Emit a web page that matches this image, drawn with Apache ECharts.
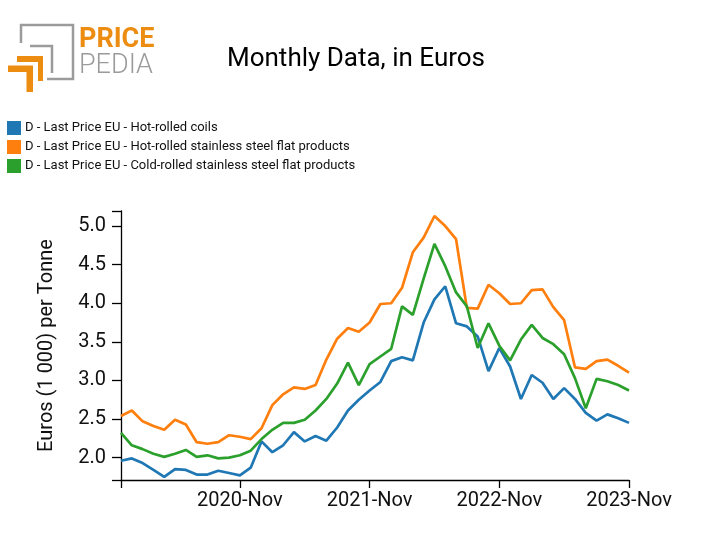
<!DOCTYPE html>
<html>
<head>
<meta charset="utf-8">
<script src="https://cdn.jsdelivr.net/npm/echarts@6/dist/echarts.min.js"></script>
<style>
html,body{margin:0;padding:0;background:#fff;}
#chart{width:712px;height:555px;}
</style>
</head>
<body>
<div id="chart"></div>
<script>
const months = [
 '2019-Dec','2020-Jan','2020-Feb','2020-Mar','2020-Apr','2020-May','2020-Jun','2020-Jul','2020-Aug','2020-Sep','2020-Oct','2020-Nov',
 '2020-Dec','2021-Jan','2021-Feb','2021-Mar','2021-Apr','2021-May','2021-Jun','2021-Jul','2021-Aug','2021-Sep','2021-Oct','2021-Nov',
 '2021-Dec','2022-Jan','2022-Feb','2022-Mar','2022-Apr','2022-May','2022-Jun','2022-Jul','2022-Aug','2022-Sep','2022-Oct','2022-Nov',
 '2022-Dec','2023-Jan','2023-Feb','2023-Mar','2023-Apr','2023-May','2023-Jun','2023-Jul','2023-Aug','2023-Sep','2023-Oct','2023-Nov'
];
const labeledMonths = ['2020-Nov','2021-Nov','2022-Nov','2023-Nov'];
const tickedMonths = ['2019-Dec','2020-Nov','2021-Nov','2022-Nov','2023-Nov'];

const hotRolledCoils = [
 1.96,1.99,1.93,1.84,1.75,1.85,1.84,1.78,1.78,1.83,1.80,1.77,
 1.87,2.21,2.07,2.16,2.33,2.21,2.28,2.22,2.39,2.61,2.75,2.87,
 2.98,3.25,3.30,3.26,3.75,4.05,4.22,3.74,3.70,3.57,3.12,3.42,
 3.18,2.76,3.07,2.97,2.76,2.90,2.76,2.58,2.48,2.56,2.51,2.45
];
const hotRolledStainless = [
 2.54,2.61,2.47,2.41,2.36,2.49,2.43,2.20,2.18,2.20,2.29,2.27,
 2.24,2.38,2.68,2.82,2.91,2.89,2.94,3.27,3.54,3.68,3.63,3.75,
 3.99,4.00,4.20,4.66,4.85,5.13,5.00,4.83,3.94,3.93,4.24,4.13,
 3.99,4.00,4.17,4.18,3.95,3.78,3.17,3.15,3.25,3.27,3.19,3.10
];
const coldRolledStainless = [
 2.32,2.16,2.11,2.05,2.01,2.05,2.10,2.01,2.03,1.99,2.00,2.03,
 2.09,2.24,2.36,2.45,2.45,2.49,2.61,2.76,2.96,3.23,2.94,3.21,
 3.31,3.41,3.96,3.85,4.32,4.77,4.48,4.14,3.96,3.42,3.74,3.45,
 3.26,3.53,3.72,3.55,3.47,3.34,3.03,2.64,3.02,2.99,2.94,2.87
];
const seriesNames = [
 'D - Last Price EU - Hot-rolled coils',
 'D - Last Price EU - Hot-rolled stainless steel flat products',
 'D - Last Price EU - Cold-rolled stainless steel flat products'
];
const yMin = 1.71, yMax = 5.195;
const yLabelValues = [2.0,2.5,3.0,3.5,4.0,4.5,5.0];
const yTickValues = [yMin,2.0,2.5,3.0,3.5,4.0,4.5,5.0,yMax];

const colors = ['#1f77b4','#ff7f0e','#2ca02c'];
const orange = '#ec8d12', gray = '#9b9b9b';

const chart = echarts.init(document.getElementById('chart'), null, {renderer:'canvas'});
const font = 'Roboto, "Liberation Sans", sans-serif';
chart.setOption({
  animation:false,
  backgroundColor:'#fff',
  color:colors,
  title:{
    text:'Monthly Data, in Euros', left:'center', top:46, padding:0,
    textStyle:{fontFamily:font, fontSize:26, fontWeight:'normal', color:'#000'}
  },
  legend:{
    orient:'vertical', left:7, top:121, itemWidth:14, itemHeight:14, itemGap:5,
    icon:'rect', padding:0,
    textStyle:{fontFamily:font, fontSize:13, color:'#111', padding:[0,0,0,-1]},
    data:seriesNames
  },
  grid:{left:121, right:83, top:211, bottom:75, containLabel:false},
  xAxis:{
    type:'category', data:months, boundaryGap:false,
    axisLine:{lineStyle:{color:'#000', width:1.3}},
    axisTick:{length:8, lineStyle:{color:'#000', width:1.3},
      interval:(i,v)=>tickedMonths.includes(v)},
    axisLabel:{fontFamily:font, fontSize:20, color:'#111', margin:11,
      interval:(i,v)=>labeledMonths.includes(v)},
    splitLine:{show:false}
  },
  yAxis:{
    type:'value', min:yMin, max:yMax,
    name:'Euros (1 000) per Tonne', nameLocation:'middle', nameGap:64,
    nameTextStyle:{fontFamily:font, fontSize:20, color:'#111'},
    axisLine:{show:true, lineStyle:{color:'#000', width:1.3}},
    axisTick:{show:true, length:9, lineStyle:{color:'#000', width:1.3}, customValues:yTickValues},
    axisLabel:{fontFamily:font, fontSize:20, color:'#111', margin:15, customValues:yLabelValues,
      formatter:v=>v.toFixed(1)},
    splitLine:{show:false}
  },
  series:[
    {name:seriesNames[0], type:'line', data:hotRolledCoils, showSymbol:false, lineStyle:{width:2.7}, z:3},
    {name:seriesNames[1], type:'line', data:hotRolledStainless, showSymbol:false, lineStyle:{width:2.7}, z:2},
    {name:seriesNames[2], type:'line', data:coldRolledStainless, showSymbol:false, lineStyle:{width:2.7}, z:4}
  ],
  graphic:[
    {type:'polyline', shape:{points:[[21,43],[21,25],[73,25],[73,79],[47,79]]}, style:{fill:null, stroke:gray, lineWidth:2.5}},
    {type:'polyline', shape:{points:[[30,46],[52,46],[52,73]]}, style:{fill:null, stroke:gray, lineWidth:2.5}},
    {type:'polygon', shape:{points:[[17,56],[43,56],[43,81],[38,81],[38,62],[17,62]]}, style:{fill:orange}},
    {type:'polygon', shape:{points:[[8,65.5],[33,65.5],[33,92],[26.5,92],[26.5,72],[8,72]]}, style:{fill:orange}},
    {type:'text', left:79, top:27, style:{text:'PRICE', fontFamily:font, fontSize:27, fontWeight:'bold', fill:orange}},
    {type:'text', left:79, top:53, style:{text:'PEDIA', fontFamily:font, fontSize:27, fontWeight:300, fill:gray}}
  ]
});
</script>
</body>
</html>
